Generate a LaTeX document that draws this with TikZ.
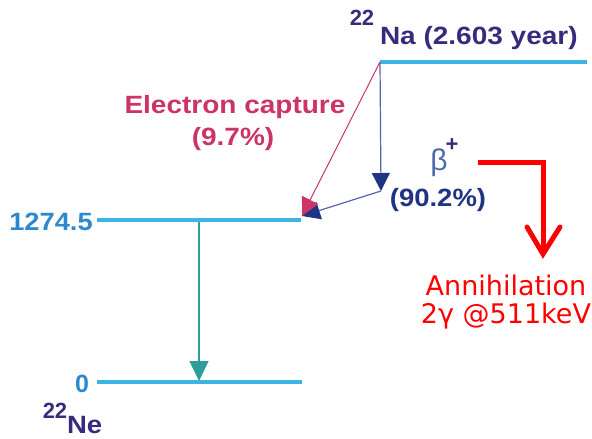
\documentclass[tikz,border=0pt]{standalone}
\usepackage{fontspec}
\setmainfont{Liberation Sans}
\newfontfamily\verd{DejaVu Sans}
\usetikzlibrary{arrows.meta}
\definecolor{levelc}{HTML}{3CB4E4}
\definecolor{levlab}{HTML}{2E88CC}
\definecolor{nucc}{HTML}{3A2A7C}
\definecolor{pinkc}{HTML}{CC3366}
\definecolor{navyl}{HTML}{5565AA}
\definecolor{navyh}{HTML}{1F3482}
\definecolor{tealc}{HTML}{2E9E9A}
\definecolor{betac}{HTML}{4D6AAE}
\tikzset{
  level/.style={draw=levelc, line width=3.5pt},
  txt/.style={inner sep=0pt, outer sep=0pt},
  bigbold/.style={txt, font=\fontsize{25}{27}\selectfont\bfseries},
  supbold/.style={txt, font=\fontsize{22}{24}\selectfont\bfseries, text=nucc},
  redtxt/.style={txt, font=\verd\fontsize{27}{29}\selectfont, text=red},
}
\begin{document}
\begin{tikzpicture}[x=1pt,y=-1pt]
\useasboundingbox (0,0) rectangle (592,439);
% level coordinates
\coordinate (naL) at (380,62);
\coordinate (naR) at (587,62);
\coordinate (exL) at (97,220);
\coordinate (exR) at (301,220);
\coordinate (gsL) at (97,382);
\coordinate (gsR) at (302,382);
\coordinate (bcorner) at (381,191);
\coordinate (tip) at (302,216);
\coordinate (gtop) at (199,222);
\coordinate (gtip) at (199,381);
\coordinate (rstart) at (478,162);
\coordinate (rcorner) at (543,162);
\coordinate (rtip) at (543,254);
\coordinate (rarmL) at (527,227);
\coordinate (rarmR) at (560,227);
% levels
\draw[level] (naL) -- (naR);
\draw[level] (exL) -- (exR);
\draw[level] (gsL) -- (gsR);
% labels
\node[supbold] (na22) at (362,18) {22};
\node[bigbold, text=nucc, anchor=base west] (natxt) at (380,45) {\scalebox{1.12}[1]{Na (2.603 year)}};
\node[bigbold, text=levlab] (e1) at (51,222) {\scalebox{1.09}[1]{1274.5}};
\node[bigbold, text=levlab] (e0) at (82,384) {0};
\node[supbold] (ne22) at (55,411) {22};
\node[bigbold, text=nucc, anchor=base west] (netxt) at (67,433) {\scalebox{1.1}[1]{Ne}};
\node[bigbold, text=pinkc] (ec) at (235,107) {\scalebox{1.12}[1]{Electron capture}};
\node[bigbold, text=pinkc] (ecp) at (233,139) {\scalebox{1.12}[1]{(9.7\%)}};
\node[txt, font=\fontsize{30}{32}\selectfont, text=betac] (beta) at (439,163) {β};
\node[txt, font=\fontsize{22}{24}\selectfont\bfseries, text=nucc] (plus) at (452,145) {+};
\node[bigbold, text=navyh] (bp) at (438,200) {\scalebox{1.1}[1]{(90.2\%)}};
\node[redtxt] (ann) at (506,285) {Annihilation};
\node[redtxt] (gam) at (506,316) {2γ @511keV};
% transitions
\draw[draw=navyl, line width=1.2pt, -{Triangle[length=18pt,width=18pt,fill=navyh,color=navyh]}] (naL) -- (bcorner);
\draw[draw=navyl, line width=1.2pt, -{Triangle[length=18pt,width=18pt,fill=navyh,color=navyh]}] (bcorner) -- (tip);
\draw[draw=pinkc, line width=1pt, -{Triangle[length=18pt,width=18pt,fill=pinkc,color=pinkc]}] (naL) -- (tip);
\draw[draw=tealc, line width=1.5pt, -{Triangle[length=20pt,width=19pt,fill=tealc,color=tealc]}] (gtop) -- (gtip);
% red annihilation arrow
\draw[red, line width=5pt] (rstart) -- (rcorner) -- (rtip);
\draw[red, line width=5pt, line cap=round, line join=miter] (rarmL) -- (rtip) -- (rarmR);
\end{tikzpicture}
\end{document}
